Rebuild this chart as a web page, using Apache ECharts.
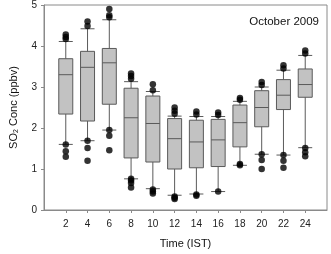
<!DOCTYPE html>
<html>
<head>
<meta charset="utf-8">
<script src="https://cdn.jsdelivr.net/npm/echarts@6/dist/echarts.min.js"></script>
<style>
  html, body { margin: 0; padding: 0; background: #fff; }
  #chart { width: 331px; height: 254px; }
</style>
</head>
<body>
<div id="chart"></div>
<script>
// hour of day (IST)
var hours = [2, 4, 6, 8, 10, 12, 14, 16, 18, 20, 22, 24];
// box statistics, ppbv
var whiskerLow  = [1.60, 1.69, 1.95, 0.76, 0.52, 0.36, 0.39, 0.45, 1.09, 1.36, 1.34, 1.52];
var q1          = [2.34, 2.17, 2.58, 1.27, 1.17, 1.00, 1.03, 1.06, 1.54, 2.03, 2.45, 2.75];
var median      = [3.30, 3.48, 3.59, 2.25, 2.11, 1.74, 1.66, 1.71, 2.13, 2.50, 2.80, 3.06];
var q3          = [3.69, 3.87, 3.94, 2.97, 2.78, 2.23, 2.19, 2.21, 2.56, 2.91, 3.18, 3.44];
var whiskerHigh = [4.11, 4.42, 4.64, 3.13, 2.89, 2.29, 2.28, 2.28, 2.65, 3.00, 3.41, 3.77];
// outlying points per hour
var outliers = [
    [4.28, 4.22, 4.17, 1.60, 1.43, 1.30],
    [4.60, 4.49, 1.69, 1.51, 1.20],
    [4.90, 4.75, 4.70, 1.95, 1.81, 1.46],
    [3.33, 3.27, 3.20, 0.76, 0.72, 0.66, 0.55],
    [3.07, 2.92, 0.50, 0.45, 0.40],
    [2.50, 2.42, 2.35, 0.33, 0.30, 0.27],
    [2.40, 2.33, 0.38, 0.35],
    [2.38, 2.32, 0.45],
    [2.73, 2.69, 1.12, 1.09],
    [3.12, 3.05, 1.36, 1.22, 1.00],
    [3.53, 3.45, 1.34, 1.20, 1.03],
    [3.89, 3.82, 1.51, 1.41, 1.31]
];
var yTicks = [0, 1, 2, 3, 4, 5];

var boxData = [];
var dots = [];
for (var i = 0; i < hours.length; i++) {
    boxData.push([hours[i], whiskerLow[i], q1[i], median[i], q3[i], whiskerHigh[i]]);
    for (var j = 0; j < outliers[i].length; j++) {
        dots.push([hours[i], outliers[i][j]]);
    }
}

var chart = echarts.init(document.getElementById('chart'));
var font = 'Liberation Sans, Arial, sans-serif';
var axisGray = '#8a8a8a';

chart.setOption({
    animation: false,
    textStyle: { fontFamily: font },
    grid: {
        left: 35, right: 4, top: 5, bottom: 38,
        show: true, borderColor: axisGray, borderWidth: 1
    },
    title: {
        text: 'October 2009',
        right: 7, top: 11,
        textStyle: { fontFamily: font, fontSize: 11.5, fontWeight: 'normal', color: '#111' }
    },
    xAxis: {
        type: 'value', min: 0, max: 26, interval: 2,
        name: 'Time (IST)', nameLocation: 'middle', nameGap: 28,
        nameTextStyle: { fontFamily: font, fontSize: 11, color: '#111' },
        splitLine: { show: false },
        axisLine: { lineStyle: { color: axisGray } },
        axisTick: { length: 3, lineStyle: { color: axisGray }, customValues: hours },
        axisLabel: { fontSize: 10, color: '#222', margin: 9, customValues: hours }
    },
    yAxis: {
        type: 'value', min: 0, max: 5, interval: 1,
        name: '{a|SO}{b|2}{a| Conc (ppbv)}', nameLocation: 'middle', nameGap: 24,
        nameTextStyle: {
            rich: {
                a: { fontFamily: font, fontSize: 11, color: '#111' },
                b: { fontFamily: font, fontSize: 7, color: '#111', padding: [6, 0, 0, 0] }
            }
        },
        splitLine: { show: false },
        axisLine: { show: true, lineStyle: { color: axisGray } },
        axisTick: { show: true, length: 3, lineStyle: { color: axisGray }, customValues: yTicks },
        axisLabel: { fontSize: 10, color: '#222', margin: 7, customValues: yTicks }
    },
    series: [
        {
            type: 'boxplot',
            data: boxData,
            boxWidth: [14, 14],
            itemStyle: { color: '#c2c2c2', borderColor: '#5a5a5a', borderWidth: 1 }
        },
        {
            type: 'scatter',
            data: dots,
            symbolSize: 6.5,
            itemStyle: { color: '#000' }
        }
    ]
});
</script>
</body>
</html>
